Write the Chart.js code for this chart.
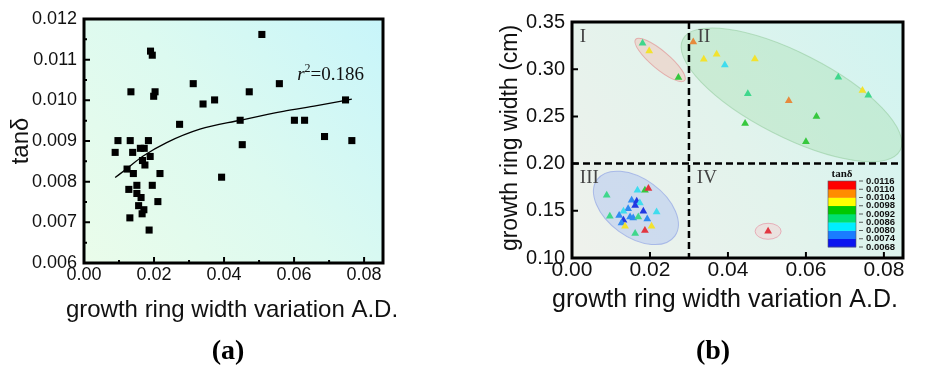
<!DOCTYPE html>
<html>
<head>
<meta charset="utf-8">
<title>tanδ vs growth ring width variation</title>
<script src="https://cdn.jsdelivr.net/npm/chart.js@4.4.0/dist/chart.umd.min.js"></script>
<style>
    body { margin: 0; background: #fff; width: 936px; height: 368px; overflow: hidden; position: relative; }
    .panel { position: absolute; top: 0; width: 468px; height: 368px; }
    #wrapA { left: 0; }
    #wrapB { left: 468px; }
</style>
</head>
<body>
<div class="panel" id="wrapA"><canvas id="chartA" width="468" height="368"></canvas></div>
<div class="panel" id="wrapB"><canvas id="chartB" width="468" height="368"></canvas></div>
<script>
// ---- (a) tanδ vs growth ring width variation A.D.
const aWidthVar = [0.0508, 0.0190, 0.0195, 0.0134, 0.0203, 0.0199, 0.0312, 0.0340, 0.0373, 0.0472,
    0.0558, 0.0747, 0.0273, 0.0446, 0.0601, 0.0630, 0.0687, 0.0765, 0.0452, 0.0393,
    0.0097, 0.0132, 0.0184, 0.0089, 0.0139, 0.0161, 0.0172, 0.0189, 0.0167, 0.0174,
    0.0123, 0.0141, 0.0217, 0.0151, 0.0195, 0.0128, 0.0151, 0.0163, 0.0211, 0.0156,
    0.0171, 0.0166, 0.0131, 0.0186];
const aTan = [0.01162, 0.01121, 0.01111, 0.01021, 0.01021, 0.01010, 0.01041, 0.00991, 0.01001, 0.01021,
    0.01041, 0.01001, 0.00941, 0.00951, 0.00951, 0.00951, 0.00911, 0.00901, 0.00891, 0.00811,
    0.00901, 0.00901, 0.00901, 0.00872, 0.00872, 0.00882, 0.00882, 0.00862, 0.00852, 0.00841,
    0.00831, 0.00820, 0.00820, 0.00791, 0.00791, 0.00781, 0.00771, 0.00761, 0.00751, 0.00741,
    0.00731, 0.00721, 0.00711, 0.00681];
// fitted curve
const fitX = [0.0089, 0.0122, 0.0169, 0.0236, 0.0331, 0.0446, 0.0569, 0.0665, 0.0765];
const fitY = [0.00810, 0.00832, 0.00863, 0.00896, 0.00929, 0.00951, 0.00973, 0.00987, 0.01003];
const aXTicks = [0, 0.01, 0.02, 0.03, 0.04, 0.05, 0.06, 0.07, 0.08];
const aYTicks = [0.006, 0.0065, 0.007, 0.0075, 0.008, 0.0085, 0.009, 0.0095, 0.010, 0.0105, 0.011, 0.0115, 0.012];

// ---- (b) growth ring width vs variation, coloured by tanδ
const bWidthVar = [0.0181, 0.0198, 0.0273,
    0.0311, 0.0338, 0.0371, 0.0392, 0.0469, 0.0683, 0.0745, 0.0760, 0.0451, 0.0556, 0.0627, 0.0444, 0.0600,
    0.0089, 0.0168, 0.0187, 0.0196, 0.0153, 0.0166, 0.0174, 0.0162, 0.0144, 0.0132, 0.0183, 0.0217,
    0.0097, 0.0121, 0.0149, 0.0157, 0.0170, 0.0193, 0.0132, 0.0127, 0.0136, 0.0204, 0.0187, 0.0162,
    0.0503];
const bRingWidth = [0.3275, 0.3193, 0.2911,
    0.3289, 0.3106, 0.3159, 0.3045, 0.3109, 0.2915, 0.2774, 0.2725, 0.2739, 0.2665, 0.2499, 0.2425, 0.2232,
    0.1664, 0.1717, 0.1717, 0.1735, 0.1611, 0.1600, 0.1583, 0.1555, 0.1523, 0.1495, 0.1495, 0.1488,
    0.1442, 0.1450, 0.1435, 0.1425, 0.1435, 0.1414, 0.1400, 0.1372, 0.1336, 0.1336, 0.1291, 0.1259,
    0.1283];
const bTan = [0.0089, 0.0101, 0.0095,
    0.0107, 0.0101, 0.0100, 0.0083, 0.0101, 0.0089, 0.0101, 0.0090, 0.0089, 0.0106, 0.0095, 0.0094, 0.0094,
    0.0089, 0.0083, 0.0095, 0.0113, 0.0077, 0.0071, 0.0083, 0.0070, 0.0077, 0.0083, 0.0071, 0.0083,
    0.0089, 0.0077, 0.0077, 0.0077, 0.0089, 0.0077, 0.0071, 0.0077, 0.0101, 0.0101, 0.0113, 0.0089,
    0.0113];
const bXTicks = [0, 0.02, 0.04, 0.06, 0.08];
const bYTicks = [0.10, 0.15, 0.20, 0.25, 0.30, 0.35];
const colorbarTicks = [0.0068, 0.0074, 0.0080, 0.0086, 0.0092, 0.0098, 0.0104, 0.0110, 0.0116];
const splitX = 0.03;
const splitY = 0.20;
const quadrantNames = ['I', 'II', 'III', 'IV'];
const quadrantX = [0.0033, 0.0335, 0.0033, 0.0333];
const quadrantY = [0.3345, 0.3345, 0.185, 0.185];

// cluster outlines: centre in data units, radii in pixels
const clusters = [
    { x: 0.0226, y: 0.3098, rx: 32, ry: 9, angle: 40, fill: 'rgba(242,190,180,0.45)', stroke: 'rgba(225,150,150,0.7)' },
    { x: 0.0563, y: 0.2728, rx: 122, ry: 42, angle: 27, fill: 'rgba(160,222,170,0.35)', stroke: 'rgba(150,205,160,0.6)' },
    { x: 0.0164, y: 0.1531, rx: 48, ry: 29, angle: 36, fill: 'rgba(175,195,240,0.5)', stroke: 'rgba(145,165,230,0.7)' },
    { x: 0.0503, y: 0.1283, rx: 13, ry: 8, angle: 0, fill: 'rgba(245,200,205,0.4)', stroke: 'rgba(230,150,165,0.7)' }
];

const barColors = ['#0a14f0', '#1a7cff', '#00eeff', '#00e070', '#00c800', '#ffff00', '#ff8c00', '#ff0000'];
const markColors = ['#2238e2', '#2f8af2', '#3fdcee', '#3fd78c', '#36c83e', '#f2e22e', '#e68a3c', '#e23640'];

const sans = '"Liberation Sans", Arial, sans-serif';
const serif = '"Liberation Serif", "Times New Roman", serif';

function tanColor(t) {
    let i = Math.floor((t - 0.0068) / 0.0006);
    i = Math.max(0, Math.min(7, i));
    return markColors[i];
}

function isMultiple(v, step) {
    const r = v / step;
    return Math.abs(r - Math.round(r)) < 1e-6;
}

// gradient behind the plot area
function backgroundPlugin(stops) {
    return {
        id: 'panelBg',
        beforeDraw(chart) {
            const { ctx, chartArea: ca } = chart;
            ctx.save();
            ctx.fillStyle = '#fff';
            ctx.fillRect(0, 0, chart.width, chart.height);
            const g = ctx.createLinearGradient(ca.left, ca.bottom, ca.right, ca.top);
            stops.forEach((c, i) => g.addColorStop(i / (stops.length - 1), c));
            ctx.fillStyle = g;
            ctx.fillRect(ca.left, ca.top, ca.width, ca.height);
            ctx.restore();
        }
    };
}

// inward ticks, thick frame and axis titles
function framePlugin(cfg) {
    return {
        id: 'frame',
        afterDraw(chart) {
            const { ctx, chartArea: ca, scales: { x, y } } = chart;
            ctx.save();
            ctx.strokeStyle = '#000';
            ctx.lineWidth = 2;
            ctx.beginPath();
            x.ticks.forEach(t => {
                const px = x.getPixelForValue(t.value);
                const len = t.label ? 6 : 3;
                ctx.moveTo(px, ca.bottom);
                ctx.lineTo(px, ca.bottom - len);
            });
            y.ticks.forEach(t => {
                const py = y.getPixelForValue(t.value);
                const len = t.label ? 6 : 3;
                ctx.moveTo(ca.left, py);
                ctx.lineTo(ca.left + len, py);
            });
            ctx.stroke();
            ctx.lineWidth = 3;
            ctx.strokeRect(ca.left, ca.top, ca.width, ca.height);

            ctx.fillStyle = '#111';
            ctx.textAlign = 'center';
            ctx.textBaseline = 'middle';
            ctx.font = cfg.xTitleSize + 'px ' + sans;
            ctx.fillText(cfg.xTitle, cfg.xTitlePos[0], cfg.xTitlePos[1]);

            ctx.save();
            ctx.translate(cfg.yTitlePos[0], cfg.yTitlePos[1]);
            ctx.rotate(-Math.PI / 2);
            ctx.font = cfg.yTitleSize + 'px ' + sans;
            ctx.fillText(cfg.yTitle, 0, 0);
            ctx.restore();

            ctx.fillStyle = '#000';
            ctx.font = 'bold 28px ' + serif;
            ctx.fillText(cfg.panel, cfg.panelPos[0], cfg.panelPos[1]);
            ctx.restore();
        }
    };
}

const rSquaredPlugin = {
    id: 'rSquared',
    afterDatasetsDraw(chart) {
        const { ctx, scales: { x, y } } = chart;
        let px = x.getPixelForValue(0.0609);
        const py = y.getPixelForValue(0.01049);
        ctx.save();
        ctx.fillStyle = '#111';
        ctx.textBaseline = 'alphabetic';
        ctx.textAlign = 'left';
        ctx.font = 'italic 19px ' + serif;
        ctx.fillText('r', px, py);
        px += ctx.measureText('r').width;
        ctx.font = '12px ' + serif;
        ctx.fillText('2', px, py - 8);
        px += ctx.measureText('2').width;
        ctx.font = '19px ' + serif;
        ctx.fillText('=0.186', px, py);
        ctx.restore();
    }
};

const quadrantPlugin = {
    id: 'quadrants',
    beforeDatasetsDraw(chart) {
        const { ctx, chartArea: ca, scales: { x, y } } = chart;
        ctx.save();
        ctx.beginPath();
        ctx.rect(ca.left, ca.top, ca.width, ca.height);
        ctx.clip();

        clusters.forEach(c => {
            ctx.save();
            ctx.translate(x.getPixelForValue(c.x), y.getPixelForValue(c.y));
            ctx.rotate(c.angle * Math.PI / 180);
            ctx.beginPath();
            ctx.ellipse(0, 0, c.rx, c.ry, 0, 0, Math.PI * 2);
            ctx.fillStyle = c.fill;
            ctx.fill();
            ctx.strokeStyle = c.stroke;
            ctx.lineWidth = 1;
            ctx.stroke();
            ctx.restore();
        });

        const vx = x.getPixelForValue(splitX);
        const hy = y.getPixelForValue(splitY);
        ctx.strokeStyle = '#000';
        ctx.lineWidth = 2.5;
        ctx.setLineDash([7, 4]);
        ctx.beginPath();
        ctx.moveTo(vx, ca.top);
        ctx.lineTo(vx, ca.bottom);
        ctx.moveTo(ca.left, hy);
        ctx.lineTo(ca.right, hy);
        ctx.stroke();
        ctx.setLineDash([]);

        ctx.fillStyle = '#444';
        ctx.font = '19px ' + serif;
        ctx.textAlign = 'left';
        ctx.textBaseline = 'middle';
        quadrantNames.forEach((n, i) => {
            ctx.fillText(n, x.getPixelForValue(quadrantX[i]) - 5, y.getPixelForValue(quadrantY[i]));
        });
        ctx.restore();
    },
    afterDatasetsDraw(chart) {
        const { ctx, chartArea: ca } = chart;
        const left = ca.right - 75;
        const top = ca.bottom - 77;
        const w = 28;
        const h = 66;
        const band = h / barColors.length;
        ctx.save();
        barColors.forEach((c, i) => {
            ctx.fillStyle = c;
            ctx.fillRect(left, top + h - (i + 1) * band, w, band + 0.3);
        });
        ctx.strokeStyle = '#556';
        ctx.lineWidth = 0.6;
        ctx.strokeRect(left, top, w, h);

        ctx.fillStyle = '#111';
        ctx.font = 'bold 11px ' + serif;
        ctx.textAlign = 'center';
        ctx.textBaseline = 'middle';
        ctx.fillText('tanδ', left + w / 2, top - 7);

        ctx.font = 'bold 9.5px ' + sans;
        ctx.textAlign = 'left';
        ctx.strokeStyle = '#333';
        ctx.lineWidth = 0.8;
        colorbarTicks.forEach((v, i) => {
            const py = top + h - i * (h / (colorbarTicks.length - 1));
            ctx.beginPath();
            ctx.moveTo(left + w + 3, py);
            ctx.lineTo(left + w + 7, py);
            ctx.stroke();
            ctx.fillText(v.toFixed(4), left + w + 10, py);
        });
        ctx.restore();
    }
};

function axisOptions(tickVals, min, max, size, padding, labelStep, digits, fitFn) {
    return {
        type: 'linear',
        min: min,
        max: max,
        afterBuildTicks: s => { s.ticks = tickVals.map(v => ({ value: v })); },
        afterFit: fitFn,
        grid: { display: false, drawTicks: false },
        border: { display: false },
        ticks: {
            autoSkip: false,
            maxRotation: 0,
            padding: padding,
            color: '#111',
            font: { family: sans, size: size },
            callback: v => isMultiple(v, labelStep) ? Number(v).toFixed(digits) : ''
        }
    };
}

window.addEventListener('DOMContentLoaded', function() {
    // panel (a)
    new Chart(document.getElementById('chartA'), {
        type: 'scatter',
        data: {
            datasets: [{
                data: aWidthVar.map((v, i) => ({ x: v, y: aTan[i] })),
                pointStyle: 'rect',
                pointRadius: 5,
                backgroundColor: '#000',
                borderColor: '#000',
                borderWidth: 0
            }, {
                data: fitX.map((v, i) => ({ x: v, y: fitY[i] })),
                showLine: true,
                pointRadius: 0,
                borderColor: '#000',
                borderWidth: 1.3,
                cubicInterpolationMode: 'monotone',
                fill: false
            }]
        },
        options: {
            responsive: false,
            animation: false,
            layout: { padding: { left: 0, top: 19, right: 85, bottom: 0 } },
            plugins: { legend: { display: false }, tooltip: { enabled: false } },
            scales: {
                x: axisOptions(aXTicks, 0, 0.0854, 18, 1, 0.02, 2, s => { s.height = 105; }),
                y: axisOptions(aYTicks, 0.006, 0.012, 18, 7, 0.001, 3, s => { s.width = 84; })
            }
        },
        plugins: [
            backgroundPlugin(['#eafcea', '#dcfaf0', '#c8f5fa']),
            rSquaredPlugin,
            framePlugin({
                xTitle: 'growth ring width variation A.D.', xTitleSize: 24, xTitlePos: [232, 310],
                yTitle: 'tanδ', yTitleSize: 24, yTitlePos: [21, 141],
                panel: '(a)', panelPos: [228, 352]
            })
        ]
    });

    // panel (b)
    new Chart(document.getElementById('chartB'), {
        type: 'scatter',
        data: {
            datasets: [{
                data: bWidthVar.map((v, i) => ({ x: v, y: bRingWidth[i] })),
                pointStyle: 'triangle',
                pointRadius: 4.5,
                backgroundColor: bTan.map(tanColor),
                borderColor: bTan.map(tanColor),
                borderWidth: 0
            }]
        },
        options: {
            responsive: false,
            animation: false,
            layout: { padding: { left: 0, top: 22, right: 33, bottom: 0 } },
            plugins: { legend: { display: false }, tooltip: { enabled: false } },
            scales: {
                x: axisOptions(bXTicks, 0, 0.0849, 21, 0, 0.02, 2, s => { s.height = 110; }),
                y: axisOptions(bYTicks, 0.10, 0.35, 20, 7, 0.05, 2, s => { s.width = 104; })
            }
        },
        plugins: [
            backgroundPlugin(['#eff1ec', '#e2f3ec', '#d0f4f1']),
            quadrantPlugin,
            framePlugin({
                xTitle: 'growth ring width variation A.D.', xTitleSize: 25, xTitlePos: [257, 300],
                yTitle: 'growth ring width (cm)', yTitleSize: 23, yTitlePos: [43, 138],
                panel: '(b)', panelPos: [245, 352]
            })
        ]
    });
});
</script>
</body>
</html>
